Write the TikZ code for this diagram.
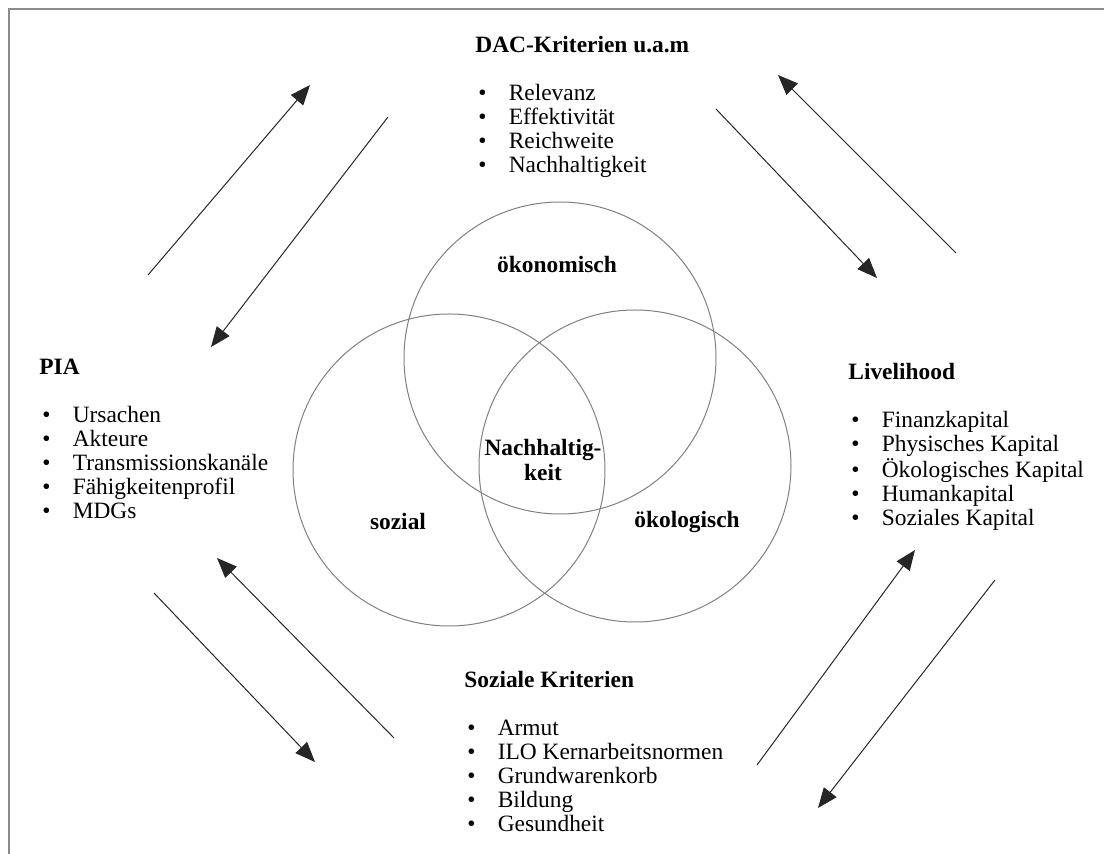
\documentclass[tikz,border=0pt]{standalone}
\usepackage{fontspec}
\setmainfont{Liberation Serif}
\usetikzlibrary{arrows.meta,positioning}
\newcommand{\itm}[1]{\makebox[16.7pt][l]{\hspace{1.5pt}\textbullet}#1}

\begin{document}
\begin{tikzpicture}[x=0.5pt, y=-0.5pt, font=\fontsize{11.7}{12}\selectfont,
  ring/.style={draw=black!50, line width=0.5pt, circle, minimum size=156pt, inner sep=0pt},
  lbl/.style={font=\fontsize{11.7}{12.5}\selectfont\bfseries, align=center, inner sep=0pt},
  list/.style={anchor=north west, align=left, inner sep=0pt},
  arr/.style={-{Triangle[length=10pt,width=8pt]}, draw=black!85, line width=0.5pt},
  frame/.style={draw=black!45, line width=0.75pt}]
  \useasboundingbox (0,0) rectangle (1104,854);
  \draw[frame] (9,854) -- (9,9) -- (1104,9);

  % Venn-Kreise
  \node[ring] (oekon) at (560,358) {};
  \node[ring] (sozc)  at (449,470) {};
  \node[ring] (oekol) at (635,466) {};
  \node[lbl] (t-oekon) at (557,265) {ökonomisch};
  \node[lbl] (t-soz)   at (398,522) {sozial};
  \node[lbl] (t-oekol) at (687,522) {ökologisch};
  \node[lbl] (t-nach)  at (543,460) {Nachhaltig-\\keit};

  % Listen
  \node[list] (dac) at (475,36) {\textbf{DAC-Kriterien u.a.m}\\[12pt]
    \itm{Relevanz}\\ \itm{Effektivität}\\ \itm{Reichweite}\\ \itm{Nachhaltigkeit}};
  \node[list] (pia) at (39,359) {\textbf{PIA}\\[12pt]
    \itm{Ursachen}\\ \itm{Akteure}\\ \itm{Transmissionskanäle}\\ \itm{Fähigkeitenprofil}\\ \itm{MDGs}};
  \node[list] (live) at (848,363) {\textbf{Livelihood}\\[12pt]
    \itm{Finanzkapital}\\ \itm{Physisches Kapital}\\ \itm{Ökologisches Kapital}\\ \itm{Humankapital}\\ \itm{Soziales Kapital}};
  \node[list] (sozk) at (464,671) {\textbf{Soziale Kriterien}\\[12pt]
    \itm{Armut}\\ \itm{ILO Kernarbeitsnormen}\\ \itm{Grundwarenkorb}\\ \itm{Bildung}\\ \itm{Gesundheit}};

  % Pfeile
  \coordinate (tl-a1) at (148,275); \coordinate (tl-b1) at (310,85);
  \coordinate (tl-a2) at (388,117); \coordinate (tl-b2) at (211,347);
  \coordinate (tr-a1) at (716,109); \coordinate (tr-b1) at (877,278);
  \coordinate (tr-a2) at (956,253); \coordinate (tr-b2) at (778,75);
  \coordinate (bl-a1) at (154,593); \coordinate (bl-b1) at (315,762);
  \coordinate (bl-a2) at (394,738); \coordinate (bl-b2) at (217,558);
  \coordinate (br-a1) at (757,765); \coordinate (br-b1) at (915,550);
  \coordinate (br-a2) at (995,580); \coordinate (br-b2) at (818,808);
  \draw[arr] (tl-a1) -- (tl-b1);
  \draw[arr] (tl-a2) -- (tl-b2);
  \draw[arr] (tr-a1) -- (tr-b1);
  \draw[arr] (tr-a2) -- (tr-b2);
  \draw[arr] (bl-a1) -- (bl-b1);
  \draw[arr] (bl-a2) -- (bl-b2);
  \draw[arr] (br-a1) -- (br-b1);
  \draw[arr] (br-a2) -- (br-b2);
\end{tikzpicture}
\end{document}
